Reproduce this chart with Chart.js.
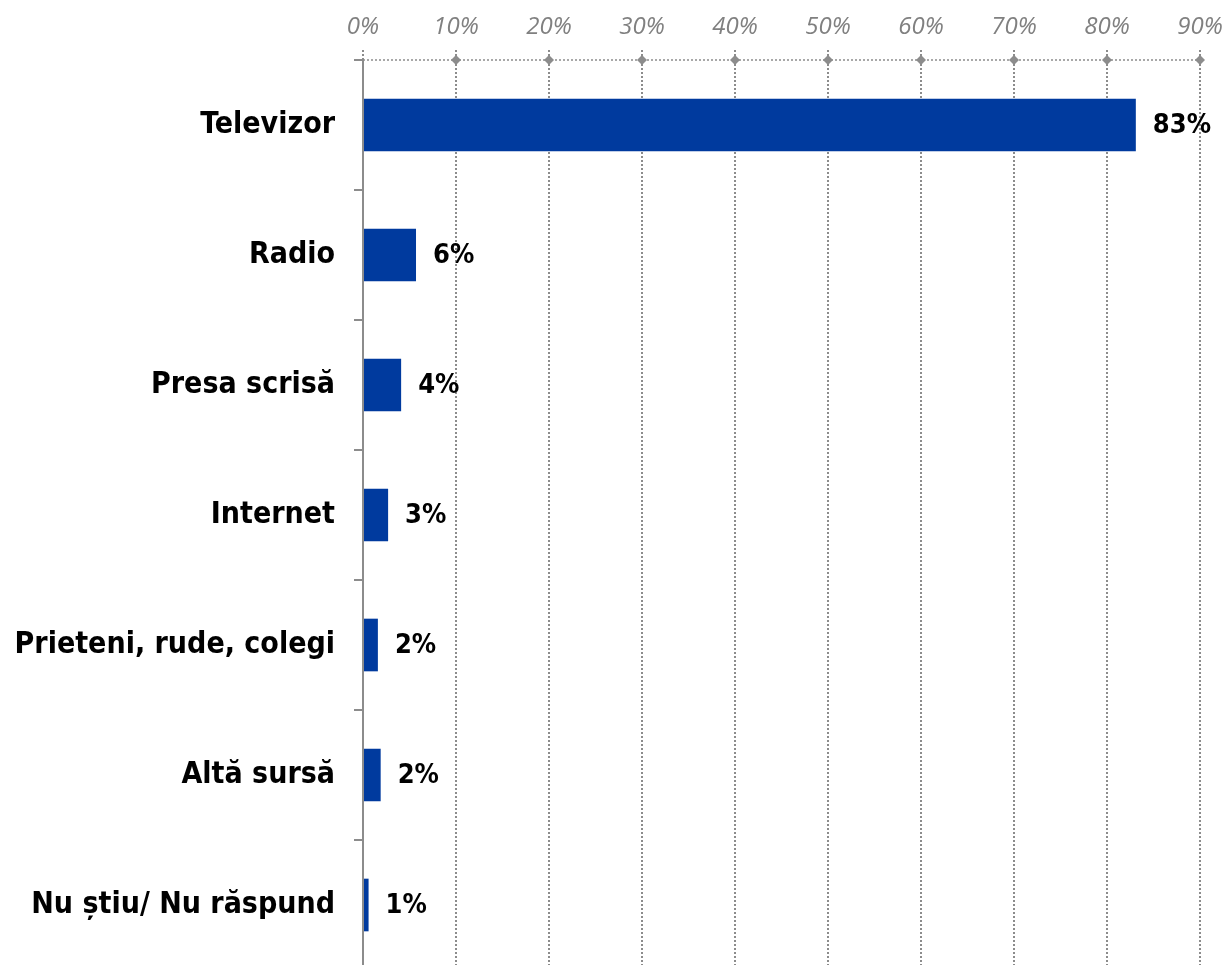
<!DOCTYPE html>
<html>
<head>
<meta charset="utf-8">
<script src="https://cdn.jsdelivr.net/npm/chart.js@4"></script>
<style>
  body { margin: 0; background: #fff; overflow: hidden; }
  #wrap { width: 1228px; height: 970px; position: relative; }
</style>
</head>
<body>
<div id="wrap"><canvas id="chart"></canvas></div>
<script>
const categories = ['Televizor', 'Radio', 'Presa scrisă', 'Internet', 'Prieteni, rude, colegi', 'Altă sursă', 'Nu știu/ Nu răspund'];
const values = [83.1, 5.7, 4.1, 2.7, 1.6, 1.9, 0.6];
const xTicks = [0, 10, 20, 30, 40, 50, 60, 70, 80, 90];

const labelFont = "'DejaVu Sans Condensed', 'DejaVu Sans', sans-serif";
const gridGrey = '#8c8c8c';

// value labels to the right of each bar
const valueLabels = {
    id: 'valueLabels',
    afterDatasetsDraw(chart) {
        const ctx = chart.ctx;
        const meta = chart.getDatasetMeta(0);
        ctx.save();
        ctx.font = 'bold 27px ' + labelFont;
        ctx.fillStyle = '#000';
        ctx.textAlign = 'left';
        ctx.textBaseline = 'middle';
        meta.data.forEach((bar, i) => {
            ctx.fillText(Math.round(values[i]) + '%', bar.x + 17, bar.y + 1);
        });
        ctx.restore();
    }
};

// dotted top axis line with diamond markers on each gridline
const topAxis = {
    id: 'topAxis',
    afterDraw(chart) {
        const ctx = chart.ctx;
        const area = chart.chartArea;
        const xs = chart.scales.x;
        ctx.save();
        ctx.strokeStyle = gridGrey;
        ctx.lineWidth = 1.5;
        ctx.setLineDash([2, 2]);
        ctx.beginPath();
        ctx.moveTo(area.left, area.top);
        ctx.lineTo(area.right, area.top);
        ctx.stroke();
        ctx.setLineDash([]);
        ctx.fillStyle = gridGrey;
        xTicks.forEach((t, i) => {
            if (i === 0) return;
            const px = xs.getPixelForValue(t);
            ctx.beginPath();
            ctx.moveTo(px, area.top - 5);
            ctx.lineTo(px + 5, area.top);
            ctx.lineTo(px, area.top + 5);
            ctx.lineTo(px - 5, area.top);
            ctx.closePath();
            ctx.fill();
        });
        ctx.restore();
    }
};

new Chart(document.getElementById('chart'), {
    type: 'bar',
    data: {
        labels: categories,
        datasets: [{
            data: values,
            backgroundColor: '#003A9E',
            borderWidth: 0,
            categoryPercentage: 1,
            barPercentage: 0.405
        }]
    },
    plugins: [valueLabels, topAxis],
    options: {
        indexAxis: 'y',
        responsive: true,
        maintainAspectRatio: false,
        animation: false,
        layout: { padding: { left: 0, right: 28, top: 0, bottom: 0 } },
        plugins: {
            legend: { display: false },
            tooltip: { enabled: false }
        },
        scales: {
            x: {
                position: 'top',
                min: 0,
                max: 90,
                afterBuildTicks(scale) {
                    scale.ticks = xTicks.map(v => ({ value: v }));
                },
                afterFit(scale) {
                    scale.height = 60;
                    scale.paddingLeft = 0;
                    scale.paddingRight = 0;
                },
                ticks: {
                    callback: v => v + '%',
                    color: '#808080',
                    font: { family: "'Open Sans', sans-serif", size: 24, style: 'italic' },
                    padding: 8,
                    maxRotation: 0
                },
                grid: {
                    color: gridGrey,
                    lineWidth: 2,
                    tickLength: 10,
                    tickColor: gridGrey,
                    tickWidth: 2,
                    tickBorderDash: [2, 2]
                },
                border: { display: false, dash: [2, 2] }
            },
            y: {
                afterFit(scale) {
                    scale.width = 363;
                    scale.paddingTop = 0;
                    scale.paddingBottom = 0;
                },
                ticks: {
                    color: '#000',
                    font: { family: labelFont, size: 30, weight: 'bold' },
                    padding: 19
                },
                grid: {
                    drawOnChartArea: false,
                    drawTicks: true,
                    offset: true,
                    tickLength: 9,
                    color: gridGrey,
                    lineWidth: 2
                },
                border: { display: true, color: gridGrey, width: 2 }
            }
        }
    }
});
</script>
</body>
</html>
